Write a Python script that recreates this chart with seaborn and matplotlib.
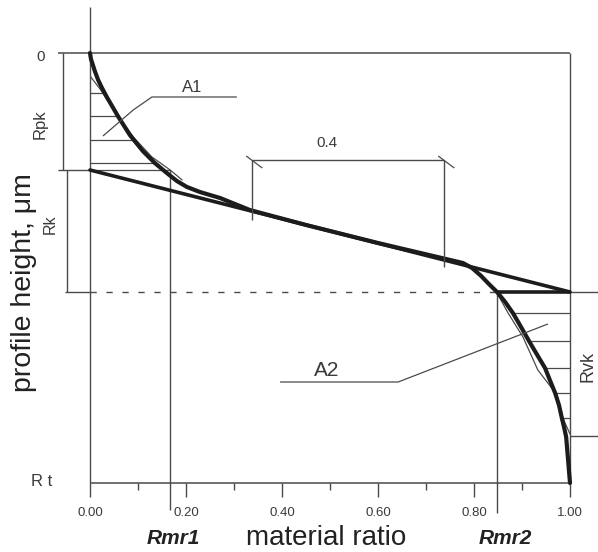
import numpy as np
import pandas as pd
import matplotlib
matplotlib.use("Agg")
import matplotlib.pyplot as plt
import seaborn as sns

# ---- Abbott-Firestone (bearing area) curve, heights in um, 0 at the top ----
curve_ratio = [0.000, 0.002, 0.006, 0.010, 0.017, 0.025, 0.035, 0.058, 0.083,
               0.110, 0.135, 0.160, 0.181, 0.202, 0.229, 0.271, 0.333, 0.450,
               0.600, 0.777, 0.796, 0.815, 0.831, 0.848, 0.865, 0.881, 0.898,
               0.917, 0.933, 0.948, 0.958, 0.969, 0.977, 0.983, 0.988, 0.992,
               0.996, 1.000]
curve_height = [0.00, 0.06, 0.12, 0.18, 0.27, 0.35, 0.44, 0.63, 0.82,
                0.98, 1.10, 1.20, 1.28, 1.34, 1.39, 1.45, 1.57, 1.72,
                1.90, 2.10, 2.15, 2.23, 2.31, 2.39, 2.49, 2.60, 2.74,
                2.90, 3.03, 3.15, 3.27, 3.40, 3.52, 3.65, 3.75, 3.84,
                4.07, 4.30]

# measured (unsmoothed) profile near the peak and valley zones
peak_ratio = [0.000, 0.021, 0.054, 0.092, 0.129, 0.167, 0.192]
peak_height = [0.23, 0.36, 0.60, 0.85, 1.04, 1.17, 1.27]
valley_ratio = [0.848, 0.871, 0.902, 0.933, 0.973, 0.985, 1.000]
valley_height = [2.40, 2.60, 2.84, 3.17, 3.42, 3.65, 3.81]

# core roughness parameters
Rpk = 1.17
Rk = 1.22
Rvk = 1.44
Rt = 4.30
Rmr1 = 0.167
Rmr2 = 0.848
secant_width = 0.4
secant_start = 0.338

# hatching levels for the A1 / A2 areas
a1_levels = [0.40, 0.63, 0.87, 1.10]
a2_levels = [2.60, 2.88, 3.15, 3.40, 3.65]

x_ticks = [0.0, 0.2, 0.4, 0.6, 0.8, 1.0]
x_minor = [0.1, 0.3, 0.5, 0.7, 0.9]

sns.set_theme(style="white")
plt.rcParams["font.family"] = ["Liberation Sans", "DejaVu Sans"]

W, H = 598, 552
fig = plt.figure(figsize=(W / 100, H / 100), dpi=100)
ax = fig.add_axes([90 / W, (H - 483) / H, 480 / W, 430 / H])
ax.set_xlim(0, 1)
ax.set_ylim(Rt, 0)
for s in ax.spines.values():
    s.set_visible(False)

dark = "#1c1c1c"
thin = "#4a4a4a"
txt = "#3a3a3a"
px = 1 / 480.0  # one pixel in ratio units

def seg(xs, ys, lw=1.0, color=thin, **kw):
    ax.plot(xs, ys, color=color, lw=lw, clip_on=False, solid_capstyle="butt", **kw)

# frame: axis, top line and right border
seg([0, 0], [-0.46, Rt], lw=1.0)
seg([-32 * px, 1.0], [0, 0], lw=1.1)
seg([1.0, 1.0], [0, Rt], lw=1.0)
seg([0, 1.0], [Rt, Rt], lw=1.1)

# x ticks hanging under the axis
for t in x_ticks:
    seg([t, t], [Rt, Rt + 0.14], lw=1.0)
    ax.text(t, Rt + 0.30, f"{t:.2f}", ha="center", va="center",
            fontsize=9.5, color=txt, clip_on=False)
for t in x_minor:
    seg([t, t], [Rt, Rt + 0.07], lw=1.0)
ax.set_xticks([])
ax.set_yticks([])

# left dimension brackets Rpk and Rk
seg([-27 * px, -27 * px], [0, Rpk], lw=1.0)
seg([-32 * px, 0], [Rpk, Rpk], lw=1.0)
seg([-23 * px, -23 * px], [Rpk, Rpk + Rk], lw=1.0)
seg([-25 * px, 0], [Rpk + Rk, Rpk + Rk], lw=1.0)

# dashed level at the bottom of the core
seg([0, Rmr2], [Rpk + Rk, Rpk + Rk], lw=1.0, ls=(0, (4.5, 7)))

# Rmr1 / Rmr2 verticals
seg([Rmr1, Rmr1], [Rpk, 4.57], lw=1.0)
seg([Rmr2, Rmr2], [Rpk + Rk, 4.60], lw=1.0)

cr = np.array(curve_ratio)
ch = np.array(curve_height)

# A1 hatching (axis to curve) and triangle base
up = cr <= 0.34
for lv in a1_levels:
    seg([0, np.interp(lv, ch[up], cr[up])], [lv, lv], lw=0.9)
seg([0, Rmr1], [Rpk, Rpk], lw=0.9)

# A2 hatching (curve to right border)
lo = cr >= Rmr2
for lv in a2_levels:
    seg([np.interp(lv, ch[lo], cr[lo]), 1.0], [lv, lv], lw=0.9)

# Rvk bracket on the right
seg([1.0, 1.06], [Rpk + Rk + Rvk, Rpk + Rk + Rvk], lw=1.0)
seg([1.0, 1.06], [Rpk + Rk, Rpk + Rk], lw=1.0)

# equivalent straight line of the core and its bottom flat
eq = pd.DataFrame({"ratio": [0.0, 1.0], "height": [Rpk, Rpk + Rk]})
sns.lineplot(data=eq, x="ratio", y="height", ax=ax, color=dark, lw=2.6,
             sort=False, estimator=None, clip_on=False)
seg([Rmr2, 1.0], [Rpk + Rk, Rpk + Rk], lw=2.6, color=dark)

# thin measured profile segments
sns.lineplot(x=peak_ratio, y=peak_height, ax=ax, color=thin, lw=0.9,
             sort=False, estimator=None)
sns.lineplot(x=valley_ratio, y=valley_height, ax=ax, color=thin, lw=0.9,
             sort=False, estimator=None)

# bearing area curve
sns.lineplot(x=curve_ratio, y=curve_height, ax=ax, color=dark, lw=3.0,
             sort=False, estimator=None, clip_on=False)
ax.lines[-1].set_solid_joinstyle("round")

# 0.4 secant window
y0 = 1.07
x_l, x_r = secant_start, secant_start + secant_width
seg([x_l, x_r], [y0, y0], lw=1.0)
seg([x_l, x_l], [y0, 1.67], lw=1.0)
seg([x_r, x_r], [y0, 2.14], lw=1.0)
for xx in (x_l, x_r):
    seg([xx - 6 * px, xx + 10 * px], [y0 - 0.04, y0 + 0.08], lw=0.9)
ax.text((x_l + x_r) / 2 - 0.045, 0.90, "0.4", ha="center", va="center",
        fontsize=11, color=txt)

# A1 / A2 leaders and labels
seg([0.306, 0.129, 0.090, 0.027], [0.44, 0.44, 0.57, 0.83], lw=0.9)
ax.text(0.2125, 0.35, "A1", ha="center", va="center", fontsize=12, color=txt)
seg([0.396, 0.642, 0.954], [3.29, 3.29, 2.71], lw=0.9)
ax.text(0.494, 3.17, "A2", ha="center", va="center", fontsize=15, color=txt)

# height labels
ax.text(-0.102, 0.04, "0", ha="center", va="center", fontsize=11, color=txt, clip_on=False)
ax.text(-0.100, Rt - 0.01, "R t", ha="center", va="center", fontsize=12, color=txt, clip_on=False)
ax.text(-0.104, 0.71, "Rpk", ha="center", va="center", rotation=90, fontsize=12,
        color=txt, clip_on=False)
ax.text(-0.083, 1.71, "Rk", ha="center", va="center", rotation=90, fontsize=11.5,
        color=txt, clip_on=False)
ax.text(1.0375, 3.13, "Rvk", ha="center", va="center", rotation=90, fontsize=13,
        color=txt, clip_on=False)
ax.text(-0.137, 2.30, "profile height, \u03bcm", ha="center", va="center",
        rotation=90, fontsize=20.5, color="#222222", clip_on=False)

# x axis labels
ax.text(0.492, 4.85, "material ratio", ha="center", va="center", fontsize=20,
        color="#222222", clip_on=False)
ax.text(Rmr1 + 0.006, 4.85, "Rmr1", ha="center", va="center", fontsize=15,
        fontweight="bold", fontstyle="italic", color="#222222", clip_on=False)
ax.text(Rmr2 + 0.017, 4.85, "Rmr2", ha="center", va="center", fontsize=15,
        fontweight="bold", fontstyle="italic", color="#222222", clip_on=False)

fig.savefig("out.png", dpi=100, facecolor="white")
